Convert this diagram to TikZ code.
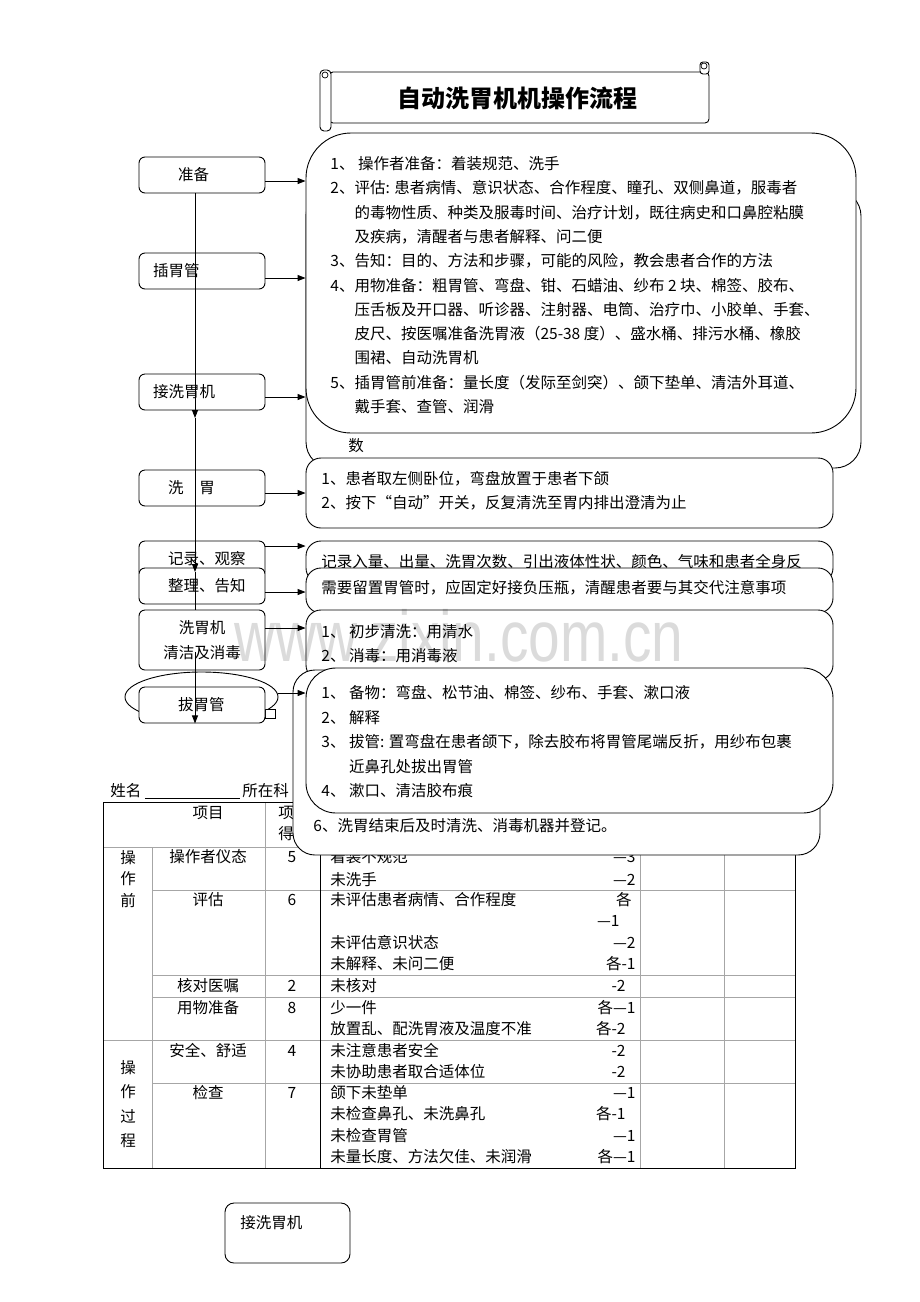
\documentclass[tikz,border=0pt]{standalone}
\usepackage{fontspec}
\newfontfamily\cjk{Noto Sans CJK SC}
\newfontfamily\wmfont{Liberation Sans}
\usetikzlibrary{arrows.meta, positioning}

\begin{document}
\begin{tikzpicture}[x=1pt, y=-1pt, line width=0.9pt,
  every node/.style={font=\cjk\fontsize{15.5}{24.3}\selectfont, inner sep=0pt},
  arr/.style={-{Triangle[length=8pt,width=6pt]}},
  stepbox/.style={draw, fill=white, rounded corners=6pt, minimum width=126pt, minimum height=36pt, text width=98pt, inner xsep=14pt, align=left},
  notebox/.style={draw, fill=white, minimum width=527pt},
  txt/.style={anchor=north west, align=left},
  tabline/.style={draw=gray!70, line width=0.8pt}]
\useasboundingbox[fill=white] (0,0) rectangle (920,1302);

% title scroll
\draw[fill=white, rounded corners=4pt] (329,72) rectangle (709,123);
\draw[fill=white, rounded corners=4pt] (320,70) rectangle (331,131);
\draw[line width=0.7pt] (325,75) circle (3pt);
\draw[fill=white, rounded corners=3pt] (700,62) rectangle (709,74);
\draw[line width=0.7pt] (704,66) circle (3pt);
\node[font=\cjk\bfseries\fontsize{24}{28}\selectfont] (title) at (517,98) {自动洗胃机机操作流程};

% score table
\node[anchor=west] (name) at (110,791) {姓名};
\draw[line width=0.7pt] ([xshift=3pt]name.south east) -- ++(95,0);
\node[anchor=west] (dept) at (242,791) {所在科};
\foreach \x in {265,640,724} \draw[tabline] (\x,802) -- (\x,1168);
\draw[tabline] (152,847) -- (152,1168);
\draw[tabline] (103,847) -- (795,847);
\draw[tabline] (103,1040) -- (795,1040);
\foreach \y in {890,975,997,1083} \draw[tabline] (152,\y) -- (795,\y);
\draw (320,802) -- (320,1168);
\draw (103,802) rectangle (795,1168);
\node (hd-item) at (208,813) {项目};
\node (hd-pts) at (286,813) {项};
\node (hd-got) at (286,834) {得};
\node[align=center, font=\cjk\fontsize{15.5}{21.3}\selectfont] (before) at (128,879) {操\\作\\前};
\node[align=center] (during) at (128,1104) {操\\作\\过\\程};
\foreach \y/\item/\score in {857/操作者仪态/5, 900/评估/6, 986/核对医嘱/2, 1008/用物准备/8, 1051/安全、舒适/4, 1093/检查/7}{
  \node (item-\y) at (208,\y) {\item};
  \node (score-\y) at (292,\y) {\score};
}
\foreach \y/\miss/\pts/\px in {857/着装不规范/—3/636, 880/未洗手/—2/636, 900/未评估患者病情、合作程度/各/632,
  921//—1/620, 943/未评估意识状态/—2/636, 964/未解释、未问二便/各-1/636, 986/未核对/-2/626,
  1008/少一件/各—1/636, 1029/放置乱、配洗胃液及温度不准/各-2/626, 1051/未注意患者安全/-2/626,
  1072/未协助患者取合适体位/-2/626, 1093/颌下未垫单/—1/636, 1114/未检查鼻孔、未洗鼻孔/各-1/626,
  1136/未检查胃管/—1/636, 1157/未量长度、方法欠佳、未润滑/各—1/636}{
  \node[anchor=west] (miss-\y) at (330,\y) {\miss};
  \node[anchor=east] (pts-\y) at (\px,\y) {\pts};
}

% note boxes
\node[notebox, minimum width=555pt, minimum height=278pt, rounded corners=26pt] (a2) at (583.5,329) {};
\node[anchor=west] (a2t) at (348,446) {数};
\node[notebox, minimum width=550pt, minimum height=300pt, rounded corners=45pt] (a1) at (581,283) {};
\node[txt] (a1t) at (330,156) {1、 操作者准备：着装规范、洗手\\
2、评估: 患者病情、意识状态、合作程度、瞳孔、双侧鼻道，服毒者\\
\phantom{2、}的毒物性质、种类及服毒时间、治疗计划，既往病史和口鼻腔粘膜\\
\phantom{2、}及疾病，清醒者与患者解释、问二便\\
3、告知：目的、方法和步骤，可能的风险，教会患者合作的方法\\
4、用物准备：粗胃管、弯盘、钳、石蜡油、纱布 2 块、棉签、胶布、\\
\phantom{4、}压舌板及开口器、听诊器、注射器、电筒、治疗巾、小胶单、手套、\\
\phantom{4、}皮尺、按医嘱准备洗胃液（25-38 度）、盛水桶、排污水桶、橡胶\\
\phantom{4、}围裙、自动洗胃机\\
5、插胃管前准备：量长度（发际至剑突）、颌下垫单、清洁外耳道、\\
\phantom{5、}戴手套、查管、润滑};
\node[notebox, minimum height=70pt, rounded corners=15pt] (b) at (569.5,493) {};
\node[txt] (bt) at (321,471) {1、患者取左侧卧位，弯盘放置于患者下颌\\2、按下“自动”开关，反复清洗至胃内排出澄清为止};
\node[notebox, minimum height=42pt, rounded corners=15pt] (c) at (569.5,562) {};
\node[txt] (ct) at (321,554) {记录入量、出量、洗胃次数、引出液体性状、颜色、气味和患者全身反};
\node[notebox, minimum height=45pt, rounded corners=15pt] (d) at (569.5,590.5) {};
\node[txt] (dt) at (321,580) {需要留置胃管时，应固定好接负压瓶，清醒患者要与其交代注意事项};
\node[notebox, minimum height=70pt, rounded corners=15pt] (e) at (569.5,645) {};
\node[txt] (et) at (321,624) {1、 初步清洗：用清水\\2、 消毒：用消毒液};
\node[notebox, minimum height=185pt, rounded corners=22pt] (f2) at (556.5,762.5) {};
\node[anchor=west] (f2t) at (313,826) {6、洗胃结束后及时清洗、消毒机器并登记。};
\node[notebox, minimum height=145pt, rounded corners=30pt] (f1) at (569.5,740.5) {};
\node[txt, font=\cjk\fontsize{15.5}{24.5}\selectfont] (f1t) at (321,685) {1、 备物：弯盘、松节油、棉签、纱布、手套、漱口液\\
2、 解释\\
3、 拔管: 置弯盘在患者颌下，除去胶布将胃管尾端反折，用纱布包裹\\
\phantom{3、 }近鼻孔处拔出胃管\\
4、 漱口、清洁胶布痕};

% steps
\node[stepbox] (prep) at (202,175) {\hspace*{25pt}准备};
\node[stepbox] (ins) at (202,271) {插胃管};
\node[stepbox] (conn) at (202,392) {接洗胃机};
\node[stepbox] (wash) at (202,488) {\hspace*{15pt}洗\hspace{16pt}胃};
\node[stepbox] (rec) at (202,559) {\hspace*{15pt}记录、观察};
\node[stepbox] (tidy) at (202,586) {\hspace*{15pt}整理、告知};

\draw[arr] ([yshift=-6pt]prep.east) -- ([yshift=-6pt]prep.east -| a1.west);
\draw[arr] ([yshift=-7pt]ins.east) -- ([yshift=-7pt]ins.east -| a1.west);
\draw[arr] ([yshift=-5pt]conn.east) -- ([yshift=-5pt]conn.east -| a1.west);
\draw[arr] ([yshift=-5pt]wash.east) -- ([yshift=-5pt]wash.east -| b.west);
\draw[arr] ([yshift=13pt]rec.east) -- ([yshift=13pt]rec.east -| c.west);
\draw[arr] ([yshift=-6pt]tidy.east) -- ([yshift=-6pt]tidy.east -| d.west);

\coordinate (v1) at (195,418);
\coordinate (v2) at (195,572);
\coordinate (v3) at (195,652);
\draw[arr] ([xshift=-7pt]prep.south) -- (v1);
\draw[arr] (v1) -- (v2);
\draw (v2) -- (195,610);

\node[stepbox, align=center, minimum height=60pt] (clean) at (202,640) {洗胃机\\清洁及消毒};
\draw[arr] ([yshift=12pt]clean.east) -- ([yshift=12pt]clean.east -| e.west);

\coordinate (ring) at (201.5,697);
\coordinate (ringe) at (278,693);
\draw (ring) ellipse [x radius=76.5pt, y radius=25pt];
\draw[arr] (ringe) -- (ringe -| f1.west);
\draw[fill=white] (265,709) rectangle (275,718);
\node[stepbox] (pull) at (202,705) {\hspace*{25pt}拔胃管};
\draw[arr] (v3) -- ([xshift=-7pt]pull.south);

% spare box
\node[draw, rounded corners=9pt, minimum width=125pt, minimum height=60pt] (spare) at (287.5,1233) {};
\node[anchor=west] (sparet) at (240,1223) {接洗胃机};

% watermark
\node[font=\wmfont\fontsize{72}{72}\selectfont, text=black, text opacity=0.14, xscale=0.79, transform shape] (wm) at (459,636) {www.zixin.com.cn};
\end{tikzpicture}
\end{document}
